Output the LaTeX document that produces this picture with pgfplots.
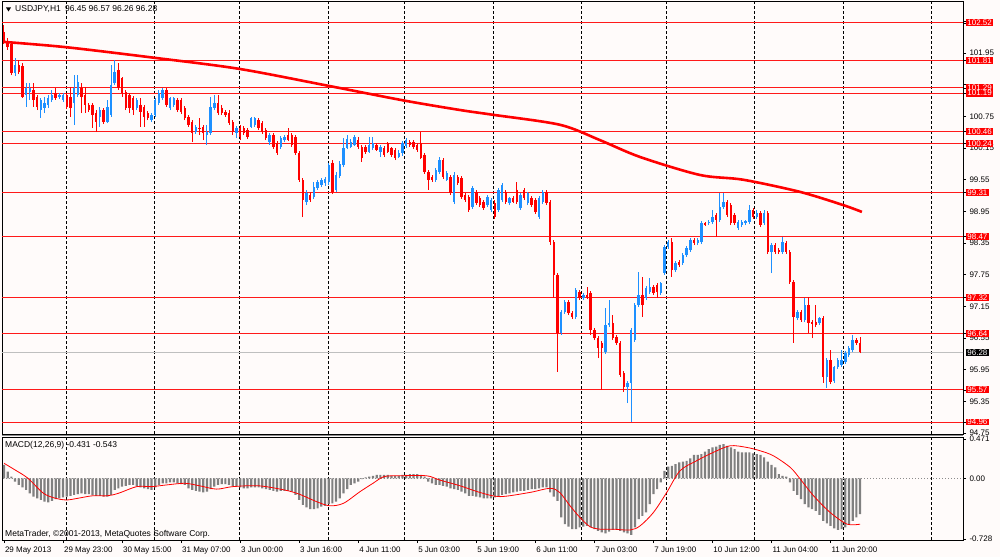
\documentclass[border=0pt]{standalone}
\usepackage{fontspec}
\setmainfont{Liberation Sans}
\usepackage{pgfplots}
\usepackage{pgfplotstable}
\pgfplotsset{compat=1.18}
\definecolor{bg}{RGB}{255,251,250}
\definecolor{bull}{RGB}{30,144,255}
\definecolor{bear}{RGB}{255,0,0}
\definecolor{histgray}{RGB}{128,128,128}

\pgfplotstableread{
i o h l c
0 102.35 102.48 102.12 102.16
1 102.16 102.23 102.01 102.06
2 102.12 102.16 101.53 101.57
3 101.57 101.86 101.51 101.72
4 101.72 101.82 101.55 101.59
5 101.70 101.76 101.10 101.12
6 101.15 101.38 100.93 101.29
7 101.21 101.38 101.06 101.29
8 101.25 101.38 100.93 101.06
9 101.12 101.15 100.87 100.93
10 100.87 101.10 100.72 101.06
11 100.91 101.12 100.81 101.00
12 100.97 101.15 100.91 101.10
13 101.06 101.25 101.02 101.15
14 101.19 101.29 101.06 101.10
15 101.12 101.19 101.08 101.15
16 101.06 101.19 101.02 101.15
17 101.15 101.19 100.89 100.93
18 101.12 101.31 100.74 100.91
19 101.00 101.53 100.59 101.29
20 101.15 101.53 101.12 101.40
21 101.29 101.38 100.81 101.12
22 101.15 101.31 100.81 100.97
23 100.97 101.00 100.83 100.87
24 100.97 101.00 100.53 100.78
25 100.81 100.87 100.45 100.64
26 100.74 100.93 100.55 100.87
27 100.87 100.91 100.61 100.64
28 100.64 101.06 100.62 100.93
29 100.78 101.72 100.74 101.34
30 101.38 101.81 101.34 101.59
31 101.63 101.76 101.25 101.29
32 101.48 101.50 101.12 101.19
33 101.21 101.25 100.87 100.91
34 101.15 101.19 100.81 100.91
35 101.10 101.14 100.78 100.87
36 100.91 101.10 100.87 101.06
37 100.97 101.10 100.55 100.83
38 100.93 100.97 100.55 100.74
39 100.81 100.85 100.68 100.72
40 100.68 100.81 100.64 100.78
41 100.78 101.10 100.74 101.06
42 101.00 101.25 100.97 101.19
43 101.10 101.29 101.06 101.25
44 101.25 101.29 100.93 100.97
45 100.91 101.12 100.87 101.10
46 100.97 101.12 100.93 101.10
47 101.06 101.10 100.83 100.87
48 101.06 101.10 100.79 100.83
49 100.91 100.95 100.68 100.72
50 100.74 100.78 100.55 100.59
51 100.64 100.68 100.26 100.44
52 100.45 100.59 100.42 100.55
53 100.53 100.72 100.40 100.51
54 100.55 100.59 100.30 100.44
55 100.40 100.59 100.21 100.45
56 100.44 101.12 100.40 100.93
57 100.91 101.15 100.87 101.00
58 101.00 101.15 100.78 100.81
59 100.91 100.97 100.78 100.81
60 100.83 100.87 100.74 100.78
61 100.81 100.87 100.59 100.62
62 100.64 100.68 100.40 100.45
63 100.44 100.57 100.34 100.53
64 100.53 100.59 100.30 100.36
65 100.53 100.57 100.40 100.44
66 100.49 100.53 100.32 100.36
67 100.55 100.74 100.53 100.72
68 100.59 100.74 100.55 100.72
69 100.68 100.72 100.49 100.53
70 100.62 100.66 100.42 100.45
71 100.49 100.53 100.30 100.34
72 100.26 100.44 100.21 100.40
73 100.40 100.44 100.13 100.17
74 100.25 100.28 100.02 100.06
75 100.17 100.38 100.13 100.34
76 100.30 100.40 100.26 100.36
77 100.40 100.53 100.28 100.30
78 100.40 100.44 100.17 100.21
79 100.36 100.40 100.02 100.06
80 100.06 100.09 99.51 99.54
81 99.54 99.58 98.84 99.17
82 99.13 99.36 99.07 99.30
83 99.26 99.32 99.13 99.17
84 99.22 99.51 99.19 99.41
85 99.39 99.54 99.36 99.51
86 99.45 99.58 99.41 99.54
87 99.49 99.60 99.43 99.56
88 99.51 99.87 99.45 99.83
89 99.87 99.92 99.28 99.32
90 99.36 99.70 99.32 99.64
91 99.62 99.90 99.58 99.85
92 99.83 100.34 99.79 100.15
93 100.15 100.40 100.13 100.32
94 100.17 100.32 100.15 100.26
95 100.21 100.40 100.19 100.36
96 100.30 100.36 100.13 100.17
97 100.17 100.21 99.89 99.96
98 100.17 100.21 100.04 100.08
99 100.08 100.36 100.06 100.21
100 100.15 100.36 100.11 100.25
101 100.21 100.25 100.09 100.11
102 100.08 100.21 99.98 100.17
103 100.15 100.19 99.98 100.02
104 100.25 100.26 100.06 100.08
105 100.15 100.17 99.98 100.02
106 100.11 100.15 99.92 99.96
107 99.98 100.11 99.96 100.06
108 100.06 100.28 100.00 100.25
109 100.19 100.34 100.15 100.30
110 100.26 100.30 100.17 100.21
111 100.26 100.30 100.13 100.17
112 100.21 100.25 100.08 100.11
113 100.25 100.46 99.94 99.96
114 100.02 100.06 99.66 99.70
115 99.70 99.73 99.36 99.54
116 99.60 99.64 99.51 99.54
117 99.54 99.77 99.51 99.73
118 99.70 99.98 99.66 99.92
119 99.92 99.96 99.56 99.60
120 99.54 99.72 99.53 99.68
121 99.60 99.64 99.26 99.30
122 99.13 99.70 99.09 99.64
123 99.60 99.64 99.45 99.49
124 99.58 99.62 99.19 99.22
125 99.26 99.30 99.13 99.17
126 99.22 99.26 98.94 98.98
127 99.03 99.43 99.00 99.39
128 99.32 99.36 99.07 99.11
129 99.20 99.24 99.03 99.07
130 99.13 99.17 98.98 99.01
131 99.07 99.26 99.03 99.22
132 98.98 99.20 98.94 99.17
133 99.11 99.17 98.81 98.84
134 98.98 99.39 98.94 99.36
135 99.17 99.49 99.13 99.45
136 99.32 99.36 99.09 99.13
137 99.11 99.22 99.07 99.20
138 99.20 99.24 99.11 99.13
139 99.36 99.51 99.09 99.13
140 99.01 99.30 98.98 99.26
141 99.36 99.39 99.17 99.20
142 99.11 99.32 99.07 99.30
143 99.20 99.24 99.03 99.07
144 99.17 99.20 98.90 98.94
145 98.84 99.24 98.81 99.20
146 99.13 99.36 99.09 99.32
147 99.32 99.36 99.07 99.11
148 99.13 99.17 98.31 98.37
149 98.37 98.41 97.31 97.75
150 97.75 97.78 95.91 96.65
151 96.65 97.08 96.61 97.04
152 97.04 97.27 97.01 97.23
153 97.23 97.27 96.99 97.03
154 97.03 97.06 96.91 96.95
155 96.95 97.50 96.91 97.46
156 97.42 97.46 97.27 97.31
157 97.31 97.40 97.27 97.37
158 97.37 97.52 97.29 97.33
159 97.40 97.44 96.61 96.70
160 96.70 96.74 96.51 96.55
161 96.55 96.59 96.17 96.36
162 96.46 96.50 95.57 96.36
163 96.29 97.12 96.25 96.80
164 96.80 97.27 96.76 96.84
165 96.84 96.99 96.51 96.55
166 96.57 96.61 96.42 96.46
167 96.46 96.50 95.81 95.85
168 95.89 95.93 95.53 95.62
169 95.62 95.74 95.32 95.70
170 95.70 96.74 94.96 96.70
171 96.51 97.22 96.48 97.18
172 97.18 97.80 97.14 97.37
173 97.37 97.71 96.95 97.18
174 97.31 97.54 97.27 97.50
175 97.42 97.69 97.39 97.52
176 97.52 97.56 97.37 97.40
177 97.56 97.59 97.31 97.42
178 97.40 97.61 97.37 97.59
179 97.78 98.31 97.75 98.28
180 98.28 98.41 98.24 98.37
181 98.37 98.45 97.71 97.84
182 97.84 98.01 97.80 97.97
183 97.99 98.03 97.90 97.94
184 97.97 98.16 97.94 98.12
185 98.12 98.29 98.09 98.26
186 98.22 98.45 98.18 98.41
187 98.41 98.45 98.31 98.35
188 98.35 98.45 98.31 98.41
189 98.37 98.77 98.33 98.73
190 98.73 98.75 98.67 98.69
191 98.73 98.79 98.69 98.75
192 98.75 98.98 98.71 98.84
193 98.88 98.92 98.47 98.79
194 98.79 99.30 98.75 99.03
195 99.03 99.30 99.00 99.13
196 99.13 99.17 98.84 98.88
197 99.07 99.11 98.69 98.73
198 98.88 98.92 98.69 98.73
199 98.64 98.79 98.60 98.75
200 98.69 98.79 98.65 98.75
201 98.73 98.79 98.69 98.77
202 98.75 99.07 98.71 98.98
203 98.98 99.01 98.81 98.84
204 98.84 98.98 98.81 98.92
205 98.92 98.96 98.65 98.69
206 98.73 98.98 98.69 98.92
207 98.92 98.96 98.14 98.18
208 98.18 98.35 97.78 98.31
209 98.31 98.35 98.14 98.18
210 98.22 98.26 98.14 98.18
211 98.18 98.47 98.14 98.37
212 98.35 98.39 98.14 98.18
213 98.18 98.22 97.58 97.61
214 97.61 97.65 96.46 96.95
215 96.93 97.08 96.89 97.04
216 97.04 97.08 96.86 96.89
217 96.89 97.31 96.86 97.18
218 97.18 97.33 96.65 96.84
219 96.86 96.89 96.55 96.82
220 96.86 97.18 96.76 96.80
221 96.84 96.95 96.80 96.93
222 96.93 96.97 95.70 95.81
223 95.81 96.17 95.61 96.14
224 96.14 96.33 95.68 95.72
225 95.74 96.02 95.70 96.00
226 96.00 96.17 95.97 96.14
227 96.04 96.33 96.00 96.14
228 96.10 96.31 96.06 96.27
229 96.23 96.40 96.19 96.36
230 96.33 96.61 96.29 96.51
231 96.51 96.55 96.42 96.46
232 96.45 96.57 96.26 96.28
}\candles

\pgfplotstableread{
i v
0 102.16
16.8 102.06
40.7 101.86
63.7 101.65
87.8 101.33
108.4 101.05
123.6 100.87
132.5 100.78
150.7 100.59
161.5 100.30
172.4 99.98
188.6 99.64
200.3 99.55
215.7 99.32
227.4 99.07
232.5 98.94
}\ma

\pgfplotstableread{
i m
0 0.16
1 0.08
2 0.02
3 -0.04
4 -0.08
5 -0.11
6 -0.14
7 -0.18
8 -0.22
9 -0.24
10 -0.26
11 -0.28
12 -0.29
13 -0.27
14 -0.25
15 -0.24
16 -0.23
17 -0.22
18 -0.21
19 -0.20
20 -0.19
21 -0.18
22 -0.19
23 -0.19
24 -0.20
25 -0.21
26 -0.21
27 -0.22
28 -0.22
29 -0.20
30 -0.14
31 -0.12
32 -0.10
33 -0.09
34 -0.08
35 -0.08
36 -0.09
37 -0.11
38 -0.12
39 -0.13
40 -0.14
41 -0.11
42 -0.08
43 -0.06
44 -0.06
45 -0.05
46 -0.05
47 -0.06
48 -0.07
49 -0.08
50 -0.12
51 -0.14
52 -0.15
53 -0.16
54 -0.17
55 -0.16
56 -0.13
57 -0.10
58 -0.08
59 -0.07
60 -0.07
61 -0.08
62 -0.09
63 -0.10
64 -0.11
65 -0.12
66 -0.12
67 -0.11
68 -0.11
69 -0.11
70 -0.12
71 -0.13
72 -0.14
73 -0.15
74 -0.16
75 -0.15
76 -0.15
77 -0.15
78 -0.16
79 -0.20
80 -0.26
81 -0.32
82 -0.35
83 -0.37
84 -0.37
85 -0.36
86 -0.34
87 -0.33
88 -0.31
89 -0.30
90 -0.28
91 -0.24
92 -0.18
93 -0.13
94 -0.08
95 -0.06
96 -0.04
97 -0.01
98 0.01
99 0.02
100 0.03
101 0.04
102 0.04
103 0.04
104 0.04
105 0.03
106 0.03
107 0.03
108 0.04
109 0.04
110 0.05
111 0.05
112 0.05
113 0.04
114 0.02
115 -0.04
116 -0.06
117 -0.08
118 -0.08
119 -0.09
120 -0.10
121 -0.12
122 -0.13
123 -0.14
124 -0.16
125 -0.18
126 -0.21
127 -0.21
128 -0.22
129 -0.23
130 -0.24
131 -0.24
132 -0.24
133 -0.23
134 -0.21
135 -0.20
136 -0.19
137 -0.18
138 -0.17
139 -0.16
140 -0.15
141 -0.15
142 -0.14
143 -0.13
144 -0.13
145 -0.12
146 -0.11
147 -0.11
148 -0.17
149 -0.22
150 -0.27
151 -0.47
152 -0.55
153 -0.58
154 -0.61
155 -0.61
156 -0.59
157 -0.58
158 -0.57
159 -0.59
160 -0.61
161 -0.63
162 -0.65
163 -0.66
164 -0.64
165 -0.62
166 -0.61
167 -0.63
168 -0.65
169 -0.66
170 -0.68
171 -0.59
172 -0.49
173 -0.45
174 -0.41
175 -0.31
176 -0.19
177 -0.13
178 -0.05
179 0.09
180 0.14
181 0.15
182 0.17
183 0.19
184 0.20
185 0.21
186 0.24
187 0.28
188 0.28
189 0.29
190 0.32
191 0.35
192 0.37
193 0.38
194 0.40
195 0.41
196 0.39
197 0.37
198 0.35
199 0.32
200 0.31
201 0.31
202 0.31
203 0.30
204 0.29
205 0.28
206 0.25
207 0.20
208 0.16
209 0.13
210 0.05
211 0.03
212 0.02
213 -0.05
214 -0.15
215 -0.20
216 -0.25
217 -0.31
218 -0.35
219 -0.37
220 -0.39
221 -0.44
222 -0.51
223 -0.54
224 -0.57
225 -0.60
226 -0.62
227 -0.61
228 -0.59
229 -0.55
230 -0.51
231 -0.47
232 -0.43
}\macd

\pgfplotstableread{
i s
0 0.18
3 0.10
6.5 0.00
10.7 -0.18
14 -0.24
17 -0.26
20 -0.24
24 -0.21
28 -0.21
31 -0.18
36 -0.10
40 -0.10
44 -0.08
49 -0.06
53 -0.09
57.6 -0.13
62 -0.10
69 -0.09
76 -0.14
80 -0.19
84.7 -0.28
88.3 -0.33
92 -0.30
96.5 -0.16
100 -0.06
103 0.02
107 0.03
114.5 0.03
118 -0.02
123.6 -0.09
129 -0.17
134.4 -0.22
142.5 -0.17
148 -0.12
150.6 -0.17
153.4 -0.33
156.1 -0.47
158.8 -0.58
161.5 -0.61
165 -0.61
169.7 -0.62
172.4 -0.57
176 -0.41
179.6 -0.17
183.2 0.09
187.7 0.21
192.2 0.31
196.8 0.39
201.3 0.37
204.9 0.33
208.5 0.27
213.1 0.13
215.8 -0.01
219.4 -0.21
223.9 -0.41
228.5 -0.55
232 -0.55
}\signal

\pgfplotsset{
  mtframe/.style={
    scale only axis,
    xmin=-0.54, xmax=259.9,
    axis line style={black, line width=0.8pt},
    tick align=outside,
    major tick length=3pt,
    tick style={black, line width=0.6pt},
    every tick label/.append style={font=\fontsize{8}{9}\selectfont},
    /pgf/number format/assume math mode=true,
    extra x ticks={16.8,40.7,63.7,87.8,108.4,132.5,156.6,179.4,203.3,227.4,251.2},
    extra x tick labels={},
    extra x tick style={grid=major, major tick length=0pt,
      major grid style={black, line width=0.7pt, dash pattern=on 3pt off 2pt}},
  }
}

\begin{document}
\begin{tikzpicture}
\fill[bg] (0pt,0pt) rectangle (1000pt,557pt);

\begin{axis}[mtframe,
  at={(2pt,123pt)}, anchor=south west,
  width=961pt, height=433pt,
  ymin=94.734, ymax=102.935,
  xtick=\empty,
  ytick={94.75,95.35,95.95,96.55,97.15,97.75,98.35,98.95,99.55,100.15,100.75,101.35,101.95,102.55},
  yticklabels={94.75,95.35,95.95,96.55,97.15,97.75,98.35,98.95,99.55,100.15,100.75,,101.95,},
  ytick pos=right, yticklabel pos=right,
  /pgf/number format/fixed, /pgf/number format/fixed zerofill, /pgf/number format/precision=2,
  yticklabel style={anchor=west},
  extra y ticks={102.52,101.81,101.29,101.19,100.46,100.24,99.31,98.47,97.32,96.64,95.57,94.96},
  extra y tick style={grid=major, major grid style={bear!90, line width=0.9pt},
    yticklabel style={fill=bear, text=white, inner xsep=1.2pt, inner ysep=0.6pt, anchor=west}},
]
\addplot[black!25, line width=0.9pt, forget plot] coordinates {(-1,96.28) (261,96.28)};
% bullish wicks and bodies
\addplot[bull, line width=1pt, quiver={u=0, v=\thisrow{h}-\thisrow{l}},
  x filter/.expression={\thisrow{c}>=\thisrow{o} ? x : nan}] table[x=i, y=l] {\candles};
\addplot[bull, line width=2.4pt, quiver={u=0, v=\thisrow{c}-\thisrow{o}},
  x filter/.expression={\thisrow{c}>=\thisrow{o} ? x : nan}] table[x=i, y=o] {\candles};
% bearish wicks and bodies
\addplot[bear, line width=1pt, quiver={u=0, v=\thisrow{h}-\thisrow{l}},
  x filter/.expression={\thisrow{c}<\thisrow{o} ? x : nan}] table[x=i, y=l] {\candles};
\addplot[bear, line width=2.4pt, quiver={u=0, v=\thisrow{c}-\thisrow{o}},
  x filter/.expression={\thisrow{c}<\thisrow{o} ? x : nan}] table[x=i, y=o] {\candles};
% moving average
\addplot[bear, line width=2.6pt, smooth] table[x=i, y=v] {\ma};
\coordinate (cur) at (axis cs:259.9,96.28);
\end{axis}
\node[fill=black, text=white, inner xsep=1.2pt, inner ysep=0.6pt, anchor=west,
  font=\fontsize{8}{9}\selectfont] at ([xshift=3pt]cur) {96.28};

\begin{axis}[mtframe,
  at={(2pt,17pt)}, anchor=south west,
  width=961pt, height=103pt,
  ymin=-0.74, ymax=0.495,
  ytick={-0.728,0,0.471}, yticklabels={-0.728,0.00,0.471},
  ytick pos=right, yticklabel pos=right,
  yticklabel style={anchor=west},
  xtick={0,16,32,48,64,80,96,112,128,144,160,176,192,208,224},
  xticklabels={29 May 2013,29 May 23:00,30 May 15:00,31 May 07:00,3 Jun 00:00,3 Jun 16:00,4 Jun 11:00,5 Jun 03:00,5 Jun 19:00,6 Jun 11:00,7 Jun 03:00,7 Jun 19:00,10 Jun 12:00,11 Jun 04:00,11 Jun 20:00},
  xtick pos=bottom,
  xticklabel style={anchor=north west, xshift=-2.5pt},
]
\addplot[black!45, line width=0.7pt, dash pattern=on 1pt off 2pt, forget plot] coordinates {(-1,0) (261,0)};
\addplot[ybar, bar width=2.2pt, fill=histgray, draw=none] table[x=i, y=m] {\macd};
\addplot[bear, line width=0.8pt, smooth] table[x=i, y=s] {\signal};
\end{axis}

\draw[black!45, line width=0.8pt] (2pt,121.5pt) -- (963pt,121.5pt);
\fill[black] (6pt,549.5pt) -- (11pt,549.5pt) -- (8.5pt,545.5pt) -- cycle;
\node[anchor=west, inner sep=0pt, font=\fontsize{8.5}{10}\selectfont] at (15pt,547.5pt) {USDJPY,H1\enspace 96.45 96.57 96.26 96.28};
\node[anchor=west, inner sep=0pt, font=\fontsize{8.5}{10}\selectfont] at (5pt,111.5pt) {MACD(12,26,9) -0.431 -0.543};
\node[anchor=west, inner sep=0pt, font=\fontsize{8.5}{10}\selectfont] at (5pt,23pt) {MetaTrader, ©2001-2013, MetaQuotes Software Corp.};
\end{tikzpicture}
\end{document}
